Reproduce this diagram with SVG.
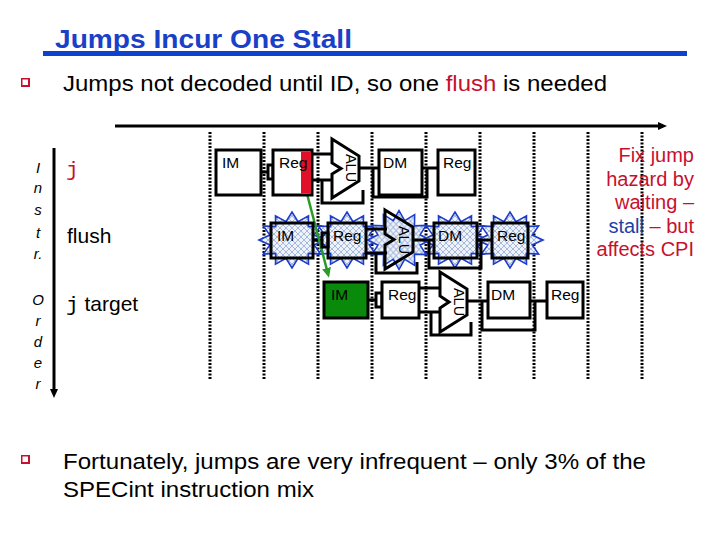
<svg xmlns="http://www.w3.org/2000/svg" width="720" height="540" viewBox="0 0 720 540">
<style>
.t{font-family:"Liberation Sans",Arial,sans-serif;fill:#000}
.mono{font-family:"Liberation Mono","Courier New",monospace}
.box{fill:#fff;stroke:#000;stroke-width:3}
.hbox{fill:none;stroke:#000;stroke-width:3}
.ln{fill:none;stroke:#000;stroke-width:3}
.lbl{font-family:"Liberation Sans",Arial,sans-serif;font-size:15.5px;fill:#000}
.alu{font-family:"Liberation Sans",Arial,sans-serif;font-size:14.5px;fill:#000}
.dot{stroke:#000;stroke-width:3;stroke-dasharray:2 1.5}
.ord{font-family:"Liberation Sans",Arial,sans-serif;font-size:15px;font-style:italic;fill:#000}
.red{fill:#c8102e}
.star{fill:url(#hatch);stroke:#1e3ccc;stroke-width:1.6}
</style>
<defs>
<pattern id="hatch" width="6" height="6" patternUnits="userSpaceOnUse">
<rect width="6" height="6" fill="#eef2fa"/>
<path d="M0,0 L6,6 M6,0 L0,6" stroke="#9fb2d8" stroke-width="0.9"/>
</pattern>
<polygon id="star" points="33,0 22.2,4.9 28.6,14 16.3,13.4 16.5,24.2 6,18.4 0,28 -6,18.4 -16.5,24.2 -16.3,13.4 -28.6,14 -22.2,4.9 -33,0 -22.2,-4.9 -28.6,-14 -16.3,-13.4 -16.5,-24.2 -6,-18.4 0,-28 6,-18.4 16.5,-24.2 16.3,-13.4 28.6,-14 22.2,-4.9"/>
<marker id="ah" markerWidth="9" markerHeight="8" refX="1" refY="4" orient="auto" markerUnits="userSpaceOnUse"><path d="M0,0 L9,4 L0,8 z" fill="#000"/></marker>
<marker id="gah" markerWidth="10" markerHeight="9" refX="2" refY="4.5" orient="auto" markerUnits="userSpaceOnUse"><path d="M0,0 L10,4.5 L0,9 z" fill="#2a9a2a"/></marker>
<g id="bullet"><rect x="0" y="0" width="9" height="9" fill="#c8102e"/><rect x="1.5" y="1.5" width="5.5" height="5.5" fill="#fff"/></g>
</defs>

<g id="title">
<text class="t" x="55" y="48" font-size="25" font-weight="bold" style="fill:#1a40c8" textLength="297" lengthAdjust="spacingAndGlyphs">Jumps Incur One Stall</text>
<rect x="43" y="51" width="644" height="5" fill="#1040d0"/>
</g>

<g id="bullet1">
<use href="#bullet" x="21" y="78"/>
<text class="t" x="63" y="91" font-size="22" textLength="544" lengthAdjust="spacingAndGlyphs">Jumps not decoded until ID, so one <tspan class="red">flush</tspan> is needed</text>
</g>

<g id="order-labels">
<text class="ord" x="38" y="173" text-anchor="middle">I</text>
<text class="ord" x="38" y="193" text-anchor="middle">n</text>
<text class="ord" x="38" y="215" text-anchor="middle">s</text>
<text class="ord" x="38" y="238" text-anchor="middle">t</text>
<text class="ord" x="38" y="259" text-anchor="middle">r.</text>
<text class="ord" x="38" y="305" text-anchor="middle">O</text>
<text class="ord" x="38" y="326" text-anchor="middle">r</text>
<text class="ord" x="38" y="347" text-anchor="middle">d</text>
<text class="ord" x="38" y="368" text-anchor="middle">e</text>
<text class="ord" x="38" y="389" text-anchor="middle">r</text>
</g>

<g id="instr-labels">
<text class="mono red" x="66" y="176" font-size="21">j</text>
<text class="t" x="67" y="243" font-size="21">flush</text>
<text class="t" x="66" y="311" font-size="21"><tspan class="mono">j</tspan> target</text>
</g>

<g id="grid">
<line class="dot" x1="210" y1="132" x2="210" y2="380"/>
<line class="dot" x1="264" y1="132" x2="264" y2="380"/>
<line class="dot" x1="318" y1="132" x2="318" y2="380"/>
<line class="dot" x1="372" y1="132" x2="372" y2="380"/>
<line class="dot" x1="426" y1="132" x2="426" y2="380"/>
<line class="dot" x1="480" y1="132" x2="480" y2="380"/>
<line class="dot" x1="534" y1="132" x2="534" y2="380"/>
<line class="dot" x1="588" y1="132" x2="588" y2="380"/>
<line class="dot" x1="642" y1="132" x2="642" y2="380"/>
</g>

<g id="axes">
<line x1="115" y1="126" x2="659" y2="126" stroke="#000" stroke-width="3" marker-end="url(#ah)"/>
<line x1="54" y1="148" x2="54" y2="390" stroke="#000" stroke-width="3" marker-end="url(#ah)"/>
</g>

<g id="explosions">
<use href="#star" class="star" transform="translate(292,240)"/>
<use href="#star" class="star" transform="translate(347,240)"/>
<use href="#star" class="star" transform="translate(399,240) scale(0.95,1.05)"/>
<use href="#star" class="star" transform="translate(455,240)"/>
<use href="#star" class="star" transform="translate(510,240)"/>
</g>

<g id="connectors">
<path class="ln" d="M261,172 H268 M312,154 H334 M312,180 H334 M322,180 V203 H363 V190 M359,168 H379 M373,168 V197 H427 V168 M422,168 H438"/>
<path class="ln" d="M313,240 H322 M366,229 H387 M366,253 H387 M376,253 V273 H417 V262 M413,240 H434 M429,240 V268 H481 V240 M477,240 H492"/>
<path class="ln" d="M368,300 H376 M419,288 H442 M419,312 H442 M431,312 V335 H471 V322 M467,301 H488 M482,301 V330 H535 V301 M530,301 H547"/>
<line x1="306" y1="190" x2="327" y2="270" stroke="#2a9a2a" stroke-width="2.5" marker-end="url(#gah)"/>
</g>

<g id="j-IM"><rect class="box" x="216" y="150" width="45" height="45"/><text class="lbl" x="222" y="168">IM</text></g>
<g id="j-Reg"><rect x="268" y="165" width="5" height="14" class="box"/><rect class="box" x="273" y="150" width="39" height="45"/><rect x="301" y="151.5" width="10" height="42" fill="#e0102a"/><text class="lbl" x="279" y="168">Reg</text></g>
<g id="j-ALU"><polygon class="box" points="332,139 359,156 359,181 332,198 332,174 341,168.5 332,163"/><text class="alu" transform="translate(345,168) rotate(90)" text-anchor="middle" dy="-1">ALU</text></g>
<g id="j-DM"><rect class="box" x="379" y="150" width="43" height="45"/><text class="lbl" x="383" y="168">DM</text></g>
<g id="j-Reg2"><rect class="box" x="438" y="150" width="37" height="45"/><text class="lbl" x="443" y="168">Reg</text></g>

<g id="flush-IM"><rect class="hbox" x="271" y="223" width="42" height="35"/><text class="lbl" x="277" y="241">IM</text></g>
<g id="flush-Reg"><rect x="322" y="233" width="6" height="14" class="hbox"/><rect class="hbox" x="328" y="223" width="38" height="35"/><text class="lbl" x="333" y="241">Reg</text></g>
<g id="flush-ALU"><polygon class="hbox" points="385,210 413,227 413,252 385,269 385,245 394,239.5 385,234"/><text class="alu" transform="translate(398,240) rotate(90)" text-anchor="middle" dy="-1">ALU</text></g>
<g id="flush-DM"><rect class="hbox" x="434" y="223" width="43" height="35"/><text class="lbl" x="438" y="241">DM</text></g>
<g id="flush-Reg2"><rect class="hbox" x="492" y="223" width="36" height="35"/><text class="lbl" x="497" y="241">Reg</text></g>

<g id="jt-IM"><rect x="324" y="282" width="44" height="36" fill="#0a8a0a" stroke="#000" stroke-width="3"/><text class="lbl" x="331" y="300">IM</text></g>
<g id="jt-Reg"><rect x="376" y="293" width="6" height="14" class="box"/><rect class="box" x="382" y="282" width="37" height="36"/><text class="lbl" x="388" y="300">Reg</text></g>
<g id="jt-ALU"><polygon class="box" points="440,272 467,289 467,315 440,332 440,308 449,302 440,296"/><text class="alu" transform="translate(453,302) rotate(90)" text-anchor="middle" dy="-1">ALU</text></g>
<g id="jt-DM"><rect class="box" x="488" y="282" width="42" height="36"/><text class="lbl" x="491" y="300">DM</text></g>
<g id="jt-Reg2"><rect class="box" x="547" y="282" width="36" height="36"/><text class="lbl" x="551" y="300">Reg</text></g>

<g id="note" font-family="Liberation Sans, Arial, sans-serif" font-size="20" fill="#c8102e" text-anchor="end">
<text x="694" y="162">Fix jump</text>
<text x="694" y="186">hazard by</text>
<text x="694" y="209">waiting –</text>
<text x="694" y="233"><tspan fill="#1f3fa8">stall</tspan> – but</text>
<text x="694" y="256">affects CPI</text>
</g>

<g id="bullet2">
<use href="#bullet" x="21" y="455"/>
<text class="t" x="63" y="469" font-size="22" textLength="583" lengthAdjust="spacingAndGlyphs">Fortunately, jumps are very infrequent – only 3% of the</text>
<text class="t" x="63" y="497" font-size="22" textLength="251" lengthAdjust="spacingAndGlyphs">SPECint instruction mix</text>
</g>
</svg>
